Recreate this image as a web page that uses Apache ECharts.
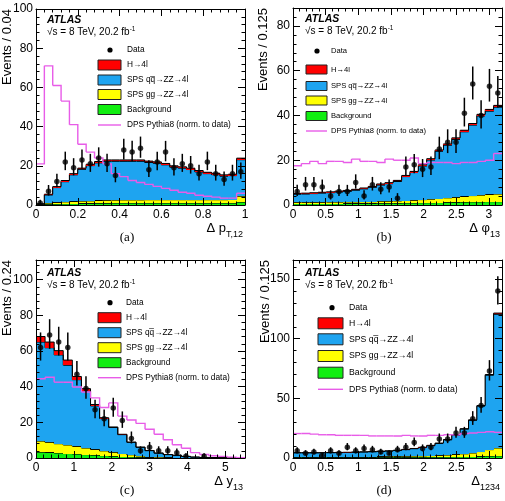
<!DOCTYPE html>
<html lang="en">
<head>
<meta charset="UTF-8">
<title>ATLAS DPS ZZ kinematics</title>
<script src="https://cdn.jsdelivr.net/npm/echarts@6/dist/echarts.min.js"></script>
<style>
html, body { margin: 0; padding: 0; background: #fff; }
#main { width: 505px; height: 501px; }
</style>
</head>
<body>
<div id="main"></div>
<script type="text/javascript">
// (a) delta pT,12 : 25 bins of 0.04
var aData = [1, 7, 12, 22, 19, 23, 21, 24, 21, 15, 28, 27, 29, 18, 22, 27, 19, 21, 20, 16, 22, 16, 13, 16, 17];
var aBkg  = [0.2, 0.4, 0.5, 0.6, 0.7, 0.8, 0.8, 0.9, 0.9, 1, 1, 1, 1, 1, 1, 1, 1, 1, 1, 1, 1, 1, 1, 1, 1.5];
var aGG   = [0.2, 0.6, 0.8, 1, 1.1, 1.2, 1.3, 1.4, 1.5, 1.5, 1.6, 1.6, 1.6, 1.7, 1.7, 1.7, 1.7, 1.7, 1.7, 1.7, 1.7, 1.7, 1.7, 1.8, 3];
var aQQ   = [0.1, 4.1, 7.6, 10.3, 13.6, 16.2, 18, 19.2, 19.9, 19.8, 19.7, 19.7, 19.7, 19, 18.6, 17.8, 16.6, 16.1, 15.4, 14.2, 13.3, 12.8, 12, 12.2, 18.6];
var aH    = [0.05, 0.4, 0.5, 0.6, 0.6, 0.6, 0.7, 0.7, 0.7, 0.7, 0.7, 0.7, 0.7, 0.7, 0.7, 0.7, 0.7, 0.7, 0.7, 0.7, 0.7, 0.7, 0.7, 0.7, 0.8];
var aDPS  = [21, 71, 61, 53, 41, 31, 27, 24, 21, 16, 14.5, 12.5, 11.5, 10.5, 9.5, 8.5, 7.5, 6.5, 6, 5, 4.5, 4, 3.5, 3.5, 6];

// (b) delta phi13 : 25 bins of 0.128
var bData = [6, 9, 9, 8, 4, 6, 6, 10, 4, 9, 7, 8, 3, 17, 18, 16, 17, 25, 28, 28, 41, 54, 40, 53, 50];
var bBkg  = [0.6, 0.6, 0.6, 0.6, 0.6, 0.6, 0.7, 0.7, 0.7, 0.7, 0.8, 0.8, 0.8, 0.9, 0.9, 1, 1, 1.1, 1.2, 1.2, 1.3, 1.4, 1.4, 1.5, 1.5];
var bGG   = [0.6, 0.6, 0.6, 0.6, 0.7, 0.7, 0.7, 0.7, 0.8, 0.8, 0.9, 0.9, 1, 1.1, 1.2, 1.4, 1.6, 1.8, 2, 2.2, 2.5, 2.8, 3, 3.2, 3.4];
var bQQ   = [3.6, 3.7, 3.9, 4.1, 4.2, 4.5, 4.7, 5.2, 5.7, 6.4, 7.2, 7.8, 8.7, 10.7, 12.4, 15, 17.5, 21.1, 23.5, 25.9, 28.9, 31.5, 35.4, 37.2, 38.8];
var bH    = [0.4, 0.4, 0.4, 0.4, 0.4, 0.4, 0.4, 0.4, 0.4, 0.4, 0.5, 0.5, 0.5, 0.5, 0.5, 0.6, 0.6, 0.6, 0.6, 0.7, 0.7, 0.7, 0.7, 0.8, 0.8];
var bDPS  = [17.5, 18.5, 19.5, 18.5, 19.5, 19.5, 19, 20.5, 19.5, 19.5, 19, 20.5, 20, 20, 21, 18.5, 19, 19, 19, 18.5, 19, 19, 19.5, 20, 23];

// (c) delta y13 : 23 bins of 0.24
var cData = [62, 69, 65, 62, 47, 39, 27, 22, 28, 21, 11, 4, 6, 4, 4, 3, 1, 0, 1, 0, 0, 0, 0];
var cBkg  = [3.3, 3.1, 2.8, 2.5, 2.2, 1.9, 1.6, 1.3, 1.0, 0.8, 0.6, 0.4, 0.3, 0.2, 0.1, 0.1, 0.05, 0, 0, 0, 0, 0, 0];
var cGG   = [6.2, 5.7, 5.2, 4.8, 4.3, 3.7, 3.2, 2.7, 2.2, 1.7, 1.2, 0.8, 0.5, 0.3, 0.2, 0.1, 0.05, 0.05, 0, 0, 0, 0, 0];
var cQQ   = [55.5, 53, 49.8, 44.7, 37.4, 32, 24.4, 18.1, 13.9, 10.6, 7, 4.8, 3.3, 2.2, 1.6, 1.3, 0.8, 0.45, 0.3, 0.2, 0.1, 0.05, 0.02];
var cH    = [3.1, 3.2, 2.4, 2.9, 1.8, 1.3, 0.8, 0.5, 0.3, 0.2, 0.1, 0.1, 0.1, 0.1, 0.05, 0.05, 0, 0, 0, 0, 0, 0, 0];
var cDPS  = [44.4, 45.3, 42.5, 42.5, 39.8, 37, 33.7, 28.3, 30.9, 23.5, 21.3, 19.4, 16.1, 13.3, 10.2, 7.4, 5.5, 3, 2, 1.3, 0.9, 0.5, 0.2];

// (d) Delta1234 : 25 bins of 0.128
var dData = [6, 4, 5, 2, 6, 4, 9, 6, 8, 7, 5, 4, 7, 9, 13, 8, 9, 16, 16, 21, 21, 33, 44, 73, 140];
var dBkg  = [0.5, 0.5, 0.5, 0.5, 0.5, 0.5, 0.5, 0.5, 0.5, 0.5, 0.6, 0.6, 0.6, 0.6, 0.7, 0.7, 0.8, 0.8, 0.9, 1, 1.1, 1.2, 1.4, 1.6, 1.8];
var dGG   = [0.6, 0.6, 0.6, 0.6, 0.6, 0.6, 0.6, 0.6, 0.7, 0.7, 0.7, 0.8, 0.8, 0.9, 1, 1.1, 1.2, 1.4, 1.6, 2, 2.4, 3, 4, 5.4, 6.6];
var dQQ   = [3.2, 3.2, 3.2, 3.2, 3.3, 3.4, 3.5, 3.7, 3.8, 4.0, 4.2, 4.4, 4.9, 5.5, 6.1, 7, 8.3, 10, 12.7, 16.2, 20.7, 27.4, 38.1, 62.4, 112.1];
var dH    = [0.2, 0.2, 0.2, 0.2, 0.2, 0.2, 0.2, 0.2, 0.2, 0.2, 0.2, 0.2, 0.2, 0.2, 0.2, 0.2, 0.3, 0.3, 0.3, 0.3, 0.4, 0.4, 0.5, 0.6, 1.0];
var dDPS  = [20.5, 20.5, 20, 19.5, 19.5, 19, 19, 19, 19, 18.5, 18.5, 18.5, 18.5, 19, 18.5, 18.5, 19, 19, 19.5, 19.5, 20.5, 21, 21.5, 22, 21.5];

var legendNames = ['Data', 'H\u21924l', 'SPS q\u0071\u0305\u2192ZZ\u21924l', 'SPS gg\u2192ZZ\u21924l', 'Background', 'DPS Pythia8 (norm. to data)'];

var COL = { h: '#ff0000', qq: '#1ea4f0', gg: '#ffff00', bkg: '#11ee11', dps: '#e85ce8' };
var FONT = '"Liberation Sans", Arial, Helvetica, sans-serif';

var panels = [
    { tag: '(a)', data: aData, bkg: aBkg, gg: aGG, qq: aQQ, h: aH, dps: aDPS, w: 0.04,
      grid: { left: 36, top: 9, width: 209, height: 196 }, xMax: 1, xInt: 0.2, yMax: 100, yInt: 20,
      yTitle: 'Events / 0.04', xTitle: '\u0394 p{s|T,12}', ytx: 7,
      atlas: [47, 20], leg: { dot: 110, box: 98, bw: 23, bh: 10, tx: 127, fs: 8.3, rows: [50, 65, 80, 94.5, 109.5, 125] } },
    { tag: '(b)', data: bData, bkg: bBkg, gg: bGG, qq: bQQ, h: bH, dps: bDPS, w: 0.128,
      grid: { left: 293, top: 8, width: 209, height: 197 }, xMax: 3.2, xInt: 0.5, yMax: 88, yInt: 20,
      yTitle: 'Events / 0.125', xTitle: '\u0394 \u03c6{s|13}', ytx: 263,
      atlas: [305, 19], leg: { dot: 317, box: 306, bw: 21, bh: 9, tx: 331, fs: 7.6, rows: [51, 69.5, 86, 100.5, 116, 131] } },
    { tag: '(c)', data: cData, bkg: cBkg, gg: cGG, qq: cQQ, h: cH, dps: cDPS, w: 0.24,
      grid: { left: 36, top: 260, width: 209, height: 198 }, xMax: 5.52, xInt: 1, yMax: 111, yInt: 20,
      yTitle: 'Events / 0.24', xTitle: '\u0394 y{s|13}', ytx: 7,
      atlas: [47, 273], leg: { dot: 110, box: 98, bw: 23, bh: 10, tx: 126, fs: 8.3, rows: [302.7, 317.7, 332.7, 347.7, 362.7, 377.7] } },
    { tag: '(d)', data: dData, bkg: dBkg, gg: dGG, qq: dQQ, h: dH, dps: dDPS, w: 0.128,
      grid: { left: 293, top: 260, width: 209, height: 198 }, xMax: 3.2, xInt: 0.5, yMax: 166, yInt: 50,
      yTitle: 'Events / 0.125', xTitle: '\u0394{s|1234}', ytx: 265,
      atlas: [305, 273], leg: { dot: 332, box: 318, bw: 25, bh: 11, tx: 349, fs: 8.7, rows: [307.7, 323.3, 339.3, 356, 372.7, 389.3] } }
];

// one item per bin: [x0, x1, base, top, nextTop]
function histItems(vals, bases, w) {
    var out = [];
    for (var i = 0; i < vals.length; i++) {
        var top = bases[i] + vals[i];
        var nextTop = i + 1 < vals.length ? bases[i + 1] + vals[i + 1] : top;
        out.push([i * w, (i + 1) * w, bases[i], top, nextTop]);
    }
    return out;
}
function histRender(fill, stroke, lw) {
    return function (params, api) {
        var lo = api.coord([api.value(0), api.value(2)]);
        var hi = api.coord([api.value(1), api.value(3)]);
        var nx = api.coord([api.value(1), api.value(4)]);
        var kids = [];
        if (fill) {
            var x0 = Math.round(lo[0]), x1 = Math.round(hi[0]);
            var y0 = Math.round(lo[1]), y1 = Math.round(hi[1]);
            kids.push({ type: 'rect', shape: { x: x0, y: y1, width: x1 - x0, height: y0 - y1 },
                        style: { fill: fill } });
        }
        kids.push({ type: 'polyline', shape: { points: [[lo[0], hi[1]], [hi[0], hi[1]], [nx[0], nx[1]]] },
                    style: { stroke: stroke, lineWidth: lw, fill: null } });
        return { type: 'group', children: kids };
    };
}
function pointPts(vals, w) {
    var out = [];
    for (var i = 0; i < vals.length; i++) if (vals[i] > 0) out.push([(i + 0.5) * w, vals[i]]);
    return out;
}
// approximate Poisson (Garwood) interval
function errPts(vals, w) {
    var out = [];
    for (var i = 0; i < vals.length; i++) {
        var n = vals[i];
        if (n <= 0) continue;
        var s = Math.sqrt(n + 0.25);
        out.push([(i + 0.5) * w, n - s + 0.5, n + s + 0.5]);
    }
    return out;
}

var grids = [], xAxes = [], yAxes = [], series = [], graphics = [];
var tickStyle = { color: '#000', width: 1 };

panels.forEach(function (p, i) {
    grids.push(p.grid);
    var xb = {
        type: 'value', gridIndex: i, min: 0, max: p.xMax, interval: p.xInt,
        axisLine: { show: true, onZero: false, lineStyle: tickStyle },
        axisTick: { show: true, inside: true, length: 7, lineStyle: tickStyle },
        minorTick: { show: true, splitNumber: 5, length: 3.5, lineStyle: tickStyle },
        splitLine: { show: false }, minorSplitLine: { show: false }
    };
    var yb = {
        type: 'value', gridIndex: i, min: 0, max: p.yMax, interval: p.yInt,
        axisLine: { show: true, onZero: false, lineStyle: tickStyle },
        axisTick: { show: true, inside: true, length: 7, lineStyle: tickStyle },
        minorTick: { show: true, splitNumber: 5, length: 3.5, lineStyle: tickStyle },
        splitLine: { show: false }, minorSplitLine: { show: false }
    };
    var lab = { show: true, color: '#000', fontSize: 12, fontFamily: FONT, margin: 4 };
    xAxes.push(Object.assign({}, xb, { position: 'bottom', z: 20,
        axisLabel: Object.assign({}, lab, { showMaxLabel: p.xMax === 1, showMinLabel: true }) }));
    xAxes.push(Object.assign({}, xb, { position: 'top', z: 20, axisLabel: { show: false } }));
    yAxes.push(Object.assign({}, yb, { position: 'left', z: 20,
        axisLabel: Object.assign({}, lab, { showMaxLabel: p.yMax % p.yInt === 0, margin: 3 }) }));
    yAxes.push(Object.assign({}, yb, { position: 'right', z: 20, axisLabel: { show: false } }));

    var ax = { xAxisIndex: 2 * i, yAxisIndex: 2 * i };
    // stack: background, gg, qq, H (bottom to top)
    var layers = [[p.bkg, COL.bkg], [p.gg, COL.gg], [p.qq, COL.qq], [p.h, COL.h]];
    var base = p.bkg.map(function () { return 0; });
    layers.forEach(function (L, k) {
        series.push(Object.assign({
            type: 'custom', name: 'mc' + i + '_' + k, data: histItems(L[0], base, p.w),
            encode: { x: [0, 1], y: [2, 3] }, renderItem: histRender(L[1], '#000', 1),
            silent: true, animation: false, clip: true, z: 2 + k
        }, ax));
        base = base.map(function (b, j) { return b + L[0][j]; });
    });
    var zero = p.dps.map(function () { return 0; });
    series.push(Object.assign({
        type: 'custom', name: 'dps' + i, data: histItems(p.dps, zero, p.w),
        encode: { x: [0, 1], y: [2, 3] }, renderItem: histRender(null, COL.dps, 1.4),
        silent: true, animation: false, clip: true, z: 8
    }, ax));
    series.push(Object.assign({
        type: 'custom', name: 'err' + i, data: errPts(p.data, p.w), animation: false, z: 9,
        encode: { x: 0, y: [1, 2] }, clip: true,
        renderItem: function (params, api) {
            var a = api.coord([api.value(0), api.value(1)]);
            var b = api.coord([api.value(0), api.value(2)]);
            return { type: 'line', shape: { x1: a[0], y1: a[1], x2: b[0], y2: b[1] },
                     style: { stroke: '#000', lineWidth: 1.5 } };
        }
    }, ax));
    series.push(Object.assign({
        type: 'scatter', name: 'Data' + i, data: pointPts(p.data, p.w), symbol: 'circle', symbolSize: 5.5,
        animation: false, z: 10, itemStyle: { color: '#000' }
    }, ax));

    var g = p.grid;
    // axis titles
    graphics.push({ type: 'text', x: p.ytx, y: g.top, rotation: Math.PI / 2,
        style: { text: p.yTitle, fill: '#000', font: '13px ' + FONT, align: 'right', verticalAlign: 'middle' } });
    graphics.push({ type: 'text', x: g.left + g.width - 2, y: g.top + g.height + 34,
        style: { text: p.xTitle, fill: '#000', font: '13px ' + FONT, align: 'right', verticalAlign: 'bottom',
                 rich: { s: { fontSize: 9, fontFamily: FONT, verticalAlign: 'bottom', lineHeight: 22 } } } });
    graphics.push({ type: 'text', x: g.left + 91, y: g.top + g.height + 33,
        style: { text: p.tag, fill: '#000', font: '13px "Liberation Serif", "Times New Roman", serif', align: 'center', verticalAlign: 'middle' } });
    // ATLAS label
    graphics.push({ type: 'text', x: p.atlas[0], y: p.atlas[1],
        style: { text: 'ATLAS', fill: '#000', font: 'italic bold 10.5px ' + FONT, verticalAlign: 'middle' } });
    graphics.push({ type: 'text', x: p.atlas[0], y: p.atlas[1] + 12.5,
        style: { text: '\u221As = 8 TeV, 20.2 fb{u|-1}', fill: '#000', font: '10px ' + FONT, verticalAlign: 'middle',
                 rich: { u: { fontSize: 6.5, fontFamily: FONT, verticalAlign: 'top', lineHeight: 14 } } } });
    // legend
    var L = p.leg;
    graphics.push({ type: 'circle', shape: { cx: L.dot, cy: L.rows[0], r: 2.6 }, style: { fill: '#000' } });
    var fills = [COL.h, COL.qq, COL.gg, COL.bkg];
    for (var k = 0; k < 4; k++) {
        graphics.push({ type: 'rect', shape: { x: L.box, y: L.rows[k + 1] - L.bh / 2, width: L.bw, height: L.bh },
            style: { fill: fills[k], stroke: '#222', lineWidth: 1 } });
    }
    graphics.push({ type: 'line', shape: { x1: L.box, y1: L.rows[5], x2: L.box + L.bw, y2: L.rows[5] },
        style: { stroke: COL.dps, lineWidth: 1.4 } });
    for (var t = 0; t < 6; t++) {
        graphics.push({ type: 'text', x: L.tx, y: L.rows[t],
            style: { text: legendNames[t], fill: '#000', font: L.fs + 'px ' + FONT, verticalAlign: 'middle' } });
    }
});

var myChart = echarts.init(document.getElementById('main'), null, { renderer: 'canvas' });
myChart.setOption({
    animation: false,
    backgroundColor: '#fff',
    grid: grids,
    xAxis: xAxes,
    yAxis: yAxes,
    series: series,
    graphic: graphics
});
</script>
</body>
</html>
